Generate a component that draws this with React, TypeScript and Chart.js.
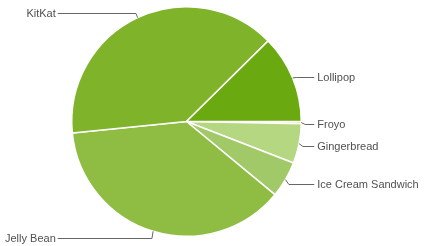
import React, { useEffect, useRef } from "react";
import { Chart, registerables } from "chart.js";

Chart.register(...registerables);

const labels = ["Froyo", "Gingerbread", "Ice Cream Sandwich", "Jelly Bean", "KitKat", "Lollipop"];
const values = [0.3, 5.6, 5.1, 37.4, 39.2, 12.4];
const colors = ["#d3e6b2", "#b6d781", "#a2c968", "#8fbd43", "#7fb42a", "#6aa90f"];

const labelPlugin = {
  id: "leaderLabels",
  afterDraw(chart: any) {
    const ctx = chart.ctx;
    const meta = chart.getDatasetMeta(0);
    ctx.save();
    ctx.font = "11px 'Liberation Sans', Arial, sans-serif";
    ctx.fillStyle = "#505050";
    ctx.strokeStyle = "#666666";
    ctx.lineWidth = 1;
    ctx.textBaseline = "middle";
    meta.data.forEach((arc: any, i: number) => {
      const { x, y, startAngle, endAngle, outerRadius } = arc.getProps(
        ["x", "y", "startAngle", "endAngle", "outerRadius"],
        true
      );
      const mid = (startAngle + endAngle) / 2;
      const cos = Math.cos(mid);
      const sin = Math.sin(mid);
      const ex = x + outerRadius * cos;
      const ey = y + outerRadius * sin;
      const bx = x + (outerRadius + 4) * cos;
      const by = Math.round(y + (outerRadius + 6) * sin + 1) + 0.5;
      const right = cos >= 0;
      const textX = right ? x + outerRadius + 16 : x - outerRadius - 16;
      const lineEnd = right ? textX - 3 : textX + 2;
      ctx.beginPath();
      ctx.moveTo(ex, ey);
      ctx.lineTo(bx, by);
      ctx.lineTo(lineEnd, by);
      ctx.stroke();
      ctx.textAlign = right ? "left" : "right";
      ctx.fillText(labels[i], textX, by);
    });
    ctx.restore();
  },
};

export default function App() {
  const ref = useRef<HTMLCanvasElement>(null);
  useEffect(() => {
    document.body.style.margin = "0";
    const chart = new Chart(ref.current!, {
      type: "pie",
      data: {
        labels,
        datasets: [
          {
            data: values,
            backgroundColor: colors,
            borderColor: "#ffffff",
            borderWidth: 1.5,
          },
        ],
      },
      options: {
        responsive: false,
        animation: false,
        rotation: 90,
        layout: { padding: { left: 71, right: 123, top: 5, bottom: 8 } },
        plugins: { legend: { display: false }, tooltip: { enabled: false } },
      },
      plugins: [labelPlugin],
    });
    return () => chart.destroy();
  }, []);
  return (
    <div style={{ position: "absolute", left: 0, top: 0, width: 425, height: 246, background: "#fff" }}>
      <canvas ref={ref} width={425} height={246} />
    </div>
  );
}
